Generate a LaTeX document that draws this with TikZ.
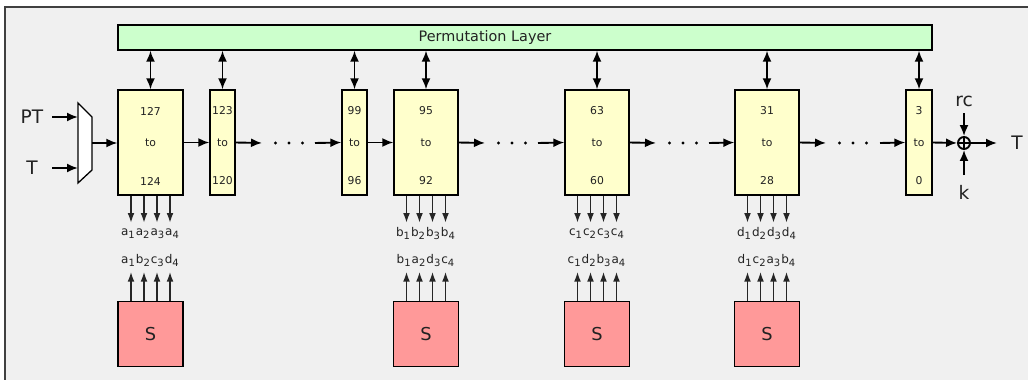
\documentclass[tikz,border=0pt]{standalone}
\usepackage{fontspec}
\setmainfont{DejaVu Sans}
\setsansfont{DejaVu Sans}
\usetikzlibrary{arrows.meta}
\definecolor{bgc}{HTML}{F0F0F0}
\definecolor{permc}{HTML}{CCFFCC}
\definecolor{regc}{HTML}{FFFFCC}
\definecolor{sboxc}{HTML}{FF9999}
\definecolor{txtc}{HTML}{222222}
\begin{document}
\begin{tikzpicture}[x=0.5pt,y=-0.5pt, font=\sffamily, text=txtc,
  tip/.style={-{Latex[length=5.5pt,width=4.5pt]}, line width=0.95pt},
  dbl/.style={{Latex[length=5.5pt,width=4.5pt]}-{Latex[length=5.5pt,width=4.5pt]}, line width=0.95pt},
  smalltip/.style={-{Latex[length=4.8pt,width=3.4pt]}, line width=0.65pt, draw=black!85},
  regbox/.style={draw, fill=regc, line width=0.65pt, inner sep=0pt, minimum height=52.5pt},
  sbox/.style={draw, fill=sboxc, line width=0.65pt, inner sep=0pt, minimum width=32.5pt, minimum height=32.5pt, font=\sffamily\fontsize{8.9}{10}\selectfont},
  numtxt/.style={inner sep=0pt, font=\sffamily\fontsize{5.4}{6}\selectfont},
  bitlab/.style={inner sep=0pt, font=\sffamily\fontsize{6}{7}\selectfont},
  iolab/.style={inner sep=0pt, font=\sffamily\fontsize{9.3}{11}\selectfont},
  dotmark/.style={fill=black}]
\useasboundingbox (0,0) rectangle (1028,380);
\fill[white] (0,0) rectangle (1028,380);
\draw[fill=bgc, draw=black!75, line width=0.6pt] (5,7) rectangle (1040,392);

% permutation layer
\node[draw, fill=permc, line width=0.65pt, inner sep=0pt, minimum width=407pt, minimum height=12.5pt] (perm) at (525,37.5) {};
\node[inner sep=0pt, font=\sffamily\fontsize{7.2}{8}\selectfont] (permtxt) at (485,37.5) {Permutation Layer};

% register boxes
\foreach \n/\xa/\xb/\hi/\lo in {b127/118/183/127/124, b123/210/235/123/120, b99/342/367/99/96,
    b95/394/458/95/92, b63/565/629/63/60, b31/735/799/31/28, b3/906/932/3/0}{
  \node[regbox, minimum width={(\xb-\xa)*0.5pt}] (\n) at ({(\xa+\xb)/2},142.5) {};
  \node[numtxt] (\n-hi) at ({(\xa+\xb)/2},111) {\hi};
  \node[numtxt] (\n-to) at ({(\xa+\xb)/2},143) {to};
  \node[numtxt] (\n-lo) at ({(\xa+\xb)/2},181) {\lo};
  \draw[dbl] (perm.south -| \n.north) -- (\n.north);
}

% mux and inputs
\draw[fill=white, line width=0.65pt] (78,103) -- (92,117) -- (92,170) -- (78,183) -- cycle;
\coordinate (muxin1) at (78,117);
\coordinate (muxin2) at (78,168);
\coordinate (muxout) at (92,143);
\node[iolab] (pt) at (32,117) {PT};
\node[iolab] (tin) at (32,168) {T};
\coordinate (ptst) at (52,117);
\coordinate (tst) at (52,168);
\draw[tip] (ptst) -- (muxin1);
\draw[tip] (tst) -- (muxin2);
\draw[tip] (muxout) -- (muxout -| b127.west);

% chain
\draw[tip] (b127.east) -- (b123.west);
\draw[tip] (b99.east) -- (b95.west);
\foreach \a/\b/\xs/\xe in {b123/b99/262/315, b95/b63/485/538, b63/b31/656/709, b31/b3/826/880}{
  \coordinate (\a-gs) at (\xs,143);
  \coordinate (\a-ge) at (\xe,143);
  \draw[tip] (\a.east) -- (\a-gs);
  \draw[tip] (\a-ge) -- (\b.west);
  \foreach \k in {1,2,3}{
    \fill[dotmark] ({\xs+13.5*\k},143) circle (1.6);
  }
}

% output xor
\node[circle, draw, line width=0.95pt, inner sep=0pt, minimum size=6pt] (xor) at (964,143) {};
\draw[line width=0.95pt] (xor.north) -- (xor.south) (xor.west) -- (xor.east);
\draw[tip] (b3.east) -- (xor.west);
\node[iolab] (tout) at (1017,143) {T};
\coordinate (toutst) at (997,143);
\draw[tip] (xor.east) -- (toutst);
\node[iolab] (rc) at (964,101) {rc};
\node[iolab] (k) at (964,192) {k};
\coordinate (rcst) at (964,113);
\coordinate (kst) at (964,175);
\draw[tip] (rcst) -- (xor.north);
\draw[tip] (kst) -- (xor.south);

% S-boxes and bit lines
\foreach \n/\s/\la/\lb in {
  b127/s1/{a\textsubscript{1}a\textsubscript{2}a\textsubscript{3}a\textsubscript{4}}/{a\textsubscript{1}b\textsubscript{2}c\textsubscript{3}d\textsubscript{4}},
  b95/s2/{b\textsubscript{1}b\textsubscript{2}b\textsubscript{3}b\textsubscript{4}}/{b\textsubscript{1}a\textsubscript{2}d\textsubscript{3}c\textsubscript{4}},
  b63/s3/{c\textsubscript{1}c\textsubscript{2}c\textsubscript{3}c\textsubscript{4}}/{c\textsubscript{1}d\textsubscript{2}b\textsubscript{3}a\textsubscript{4}},
  b31/s4/{d\textsubscript{1}d\textsubscript{2}d\textsubscript{3}d\textsubscript{4}}/{d\textsubscript{1}c\textsubscript{2}a\textsubscript{3}b\textsubscript{4}}}{
  \path (\n.south) ++(0,38) node[bitlab] (\n-la) {\la};
  \path (\n.south) ++(0,65) node[bitlab] (\n-lb) {\lb};
  \path (\n.south) ++(0,138.5) node[sbox] (\s) {S};
  \foreach \o in {-19.5,-6.5,6.5,19.5}{
    \draw[smalltip] ([xshift=\o*0.5pt]\n.south) -- ++(0,27);
    \draw[smalltip] ([xshift=\o*0.5pt]\s.north) -- ++(0,-29);
  }
}
\end{tikzpicture}
\end{document}
